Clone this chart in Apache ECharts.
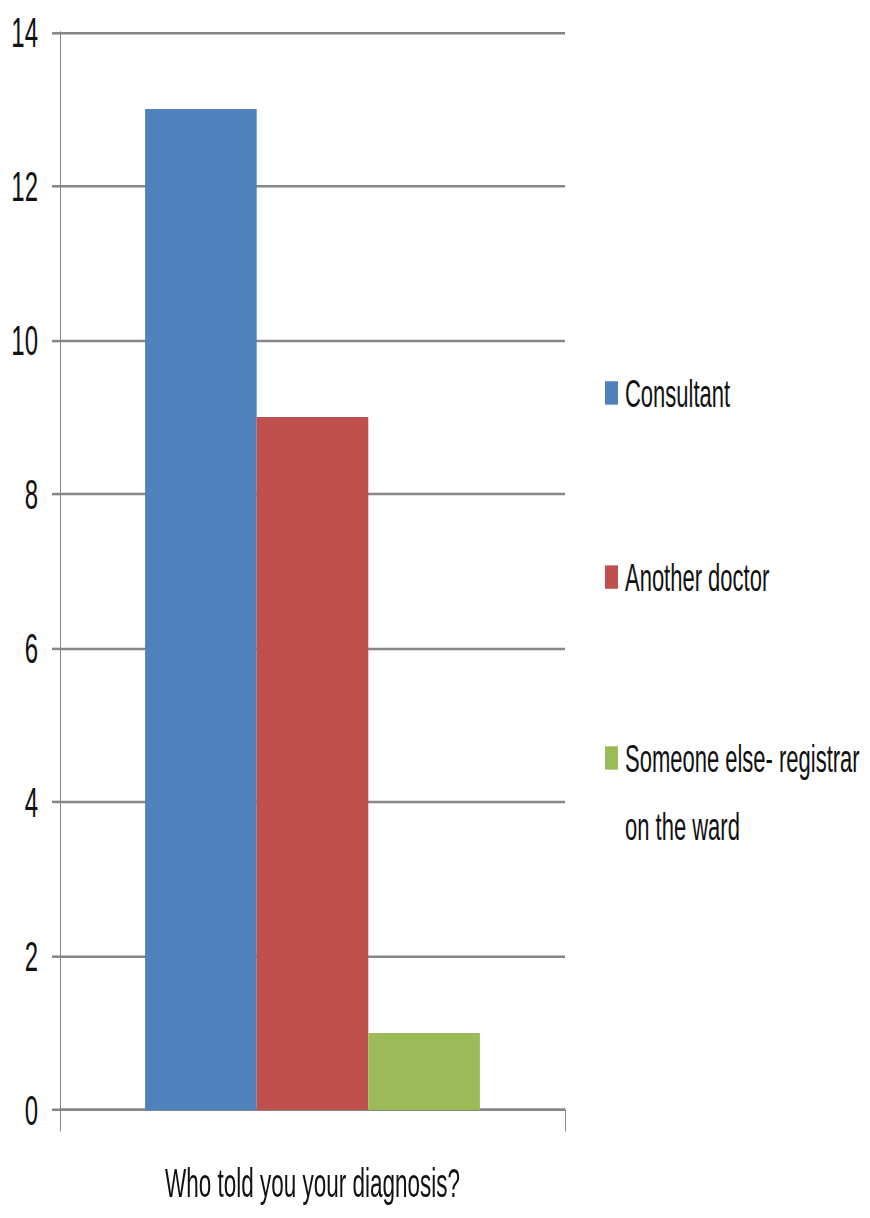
<!DOCTYPE html>
<html>
<head>
<meta charset="utf-8">
<title>Who told you your diagnosis?</title>
<script src="https://cdn.jsdelivr.net/npm/echarts@6/dist/echarts.min.js"></script>
<style>
  html, body { margin: 0; padding: 0; background: #ffffff; }
  #page { position: relative; width: 870px; height: 1218px; overflow: hidden; }
  /* The chart is laid out at its natural height and stretched tall,
     which gives the narrow, tall lettering and heavier horizontal rules. */
  #chart {
    position: absolute;
    left: 0;
    top: 0;
    width: 870px;
    height: 676.67px;
    transform: scaleY(1.8);
    transform-origin: 0 0;
  }
</style>
</head>
<body>
<div id="page"><div id="chart"></div></div>
<script>
// Survey answers: who gave the patient their diagnosis
const categories = ['Who told you your diagnosis?'];
const seriesNames = ['Consultant', 'Another doctor', 'Someone else- registrar\non the ward'];
const consultant = [13];
const anotherDoctor = [9];
const someoneElse = [1];
const yTicks = [0, 2, 4, 6, 8, 10, 12, 14];

const colors = ['#4F81BD', '#C0504D', '#9BBB59'];
const seriesValues = [consultant, anotherDoctor, someoneElse];
const FONT = "'Liberation Sans', Arial, sans-serif";
const GRID_GREY = '#868686';
// line height and top edge of each legend entry (unstretched px)
const legendLineH = [34, 34, 38];
const legendTops = [201.3, 303.6, 364.1];

const chart = echarts.init(document.getElementById('chart'), null, { renderer: 'svg', width: 870, height: 676.67 });

// one legend block per entry; a leading blank line keeps the swatch
// level with the first line of the two-line label
const legends = seriesNames.map((n, i) => ({
  orient: 'vertical',
  left: 605,
  top: legendTops[i],
  padding: 0,
  itemWidth: 13,
  itemHeight: 13,
  icon: 'rect',
  data: [n],
  formatter: name => (name.indexOf('\n') >= 0 ? '\n' + name : name),
  textStyle: { fontFamily: FONT, fontSize: 22, color: '#111', lineHeight: legendLineH[i], padding: [0, 0, 0, 2] }
}));

chart.setOption({
  animation: false,
  backgroundColor: '#ffffff',
  textStyle: { fontFamily: FONT },
  grid: { left: 60, right: 305, top: 17.78, bottom: 60, containLabel: false },
  legend: legends,
  xAxis: {
    type: 'category',
    data: categories,
    boundaryGap: true,
    axisLine: { show: true, lineStyle: { color: GRID_GREY, width: 1.4 } },
    axisTick: { show: true, length: 12, lineStyle: { color: GRID_GREY, width: 1 } },
    axisLabel: { margin: 29, fontFamily: FONT, fontSize: 22.5, color: '#111' }
  },
  yAxis: {
    type: 'value',
    min: yTicks[0],
    max: yTicks[yTicks.length - 1],
    interval: yTicks[1] - yTicks[0],
    axisLine: { show: true, lineStyle: { color: GRID_GREY, width: 1 } },
    axisTick: { show: true, length: 8, lineStyle: { color: GRID_GREY, width: 1.4 } },
    splitLine: { show: true, lineStyle: { color: GRID_GREY, width: 1.4 } },
    axisLabel: { margin: 22, fontFamily: FONT, fontSize: 24, color: '#111' }
  },
  series: seriesValues.map((vals, i) => ({
    name: seriesNames[i],
    type: 'bar',
    data: vals,
    barGap: '0%',
    barCategoryGap: '33.7%',
    itemStyle: { color: colors[i] }
  }))
});
</script>
</body>
</html>
